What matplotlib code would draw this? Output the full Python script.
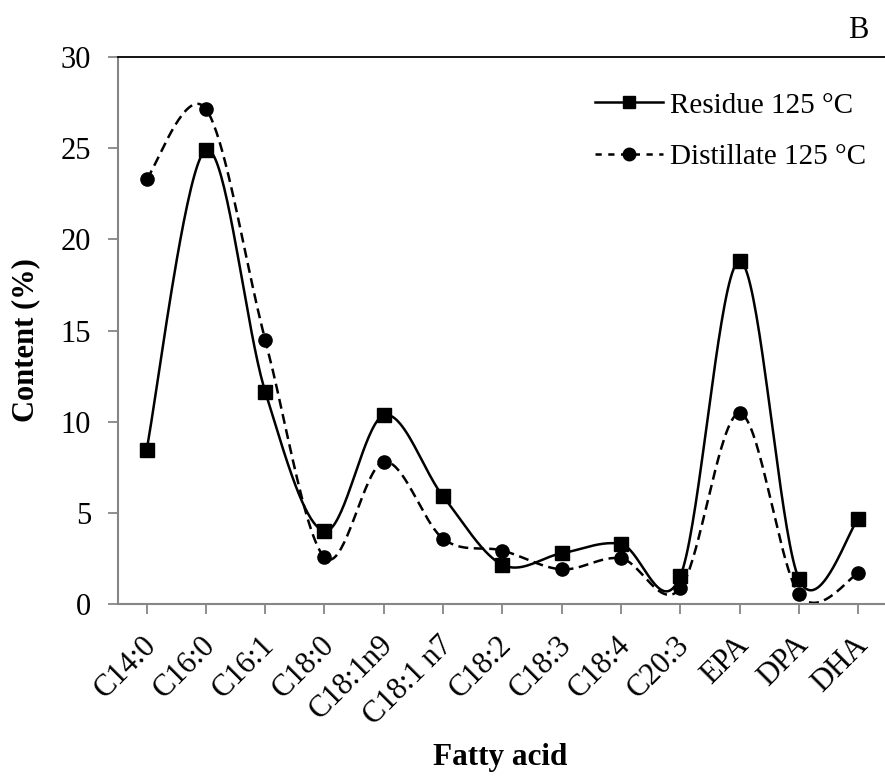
import numpy as np
import matplotlib
matplotlib.use('Agg')
from matplotlib import pyplot as plt
from matplotlib.transforms import ScaledTranslation

categories = ['C14:0', 'C16:0', 'C16:1', 'C18:0', 'C18:1n9', 'C18:1 n7', 'C18:2',
              'C18:3', 'C18:4', 'C20:3', 'EPA', 'DPA', 'DHA']
residue = [8.45, 24.9, 11.65, 4.0, 10.35, 5.9, 2.15, 2.78, 3.29, 1.54, 18.8, 1.37, 4.66]
distillate = [23.3, 27.15, 14.5, 2.56, 7.8, 3.58, 2.93, 1.9, 2.5, 0.86, 10.46, 0.53, 1.68]
y_ticks = [0, 5, 10, 15, 20, 25, 30]

plt.rcParams['font.family'] = ['Liberation Serif', 'DejaVu Serif']


def smooth(xs, ys, n=40):
    # Excel style smoothed line (Catmull-Rom as cubic bezier segments)
    p = np.column_stack([xs, ys]).astype(float)
    p = np.vstack([p[0], p, p[-1]])
    out = []
    t = np.linspace(0, 1, n)[:, None]
    for i in range(1, len(p) - 2):
        p0, p1 = p[i], p[i + 1]
        c1 = p0 + (p[i + 1] - p[i - 1]) / 6
        c2 = p1 - (p[i + 2] - p[i]) / 6
        seg = ((1 - t) ** 3) * p0 + 3 * ((1 - t) ** 2) * t * c1 + 3 * (1 - t) * t ** 2 * c2 + t ** 3 * p1
        out.append(seg if i == 1 else seg[1:])
    out = np.vstack(out)
    return out[:, 0], out[:, 1]


x = np.arange(len(categories))

fig = plt.figure(figsize=(8.85, 7.76), dpi=100)
ax = fig.add_axes([117.5 / 885, 1 - 604 / 776, 1 - 117.5 / 885, (604 - 57) / 776])

sx, sy = smooth(x, residue)
ax.plot(sx, sy, color='black', lw=1.8, solid_capstyle='round')
sx, sy = smooth(x, distillate)
ax.plot(sx, sy, color='black', lw=1.8, linestyle=(0, (4, 2.2)))
ax.plot(x, residue, 's', color='black', ms=9.5)
ax.plot(x, distillate, 'o', color='black', ms=9.5)

# legend handles combine line + marker
h1, = ax.plot([], [], '-s', color='black', lw=1.8, ms=9)
h2, = ax.plot([], [], 'o', color='black', ms=9, linestyle=(0, (2.5, 2.6)), lw=1.8)
ax.legend([h1, h2], ['Residue 125 °C', 'Distillate 125 °C'], loc='upper left',
          bbox_to_anchor=(0.6066, 0.957),
          frameon=False, fontsize=21,
          handlelength=2.33, handletextpad=0.24, labelspacing=0.85, borderaxespad=0)

ax.set_xlim(-0.49, 12.45)
ax.set_ylim(0, 30)
ax.set_yticks(y_ticks)
ax.set_xticks(x)
ax.set_xticklabels(categories, rotation=45, ha='right', va='top', rotation_mode='anchor')

for s in ['left', 'bottom']:
    ax.spines[s].set_color('#868686')
    ax.spines[s].set_linewidth(1.5)
ax.spines['right'].set_visible(False)
ax.spines['top'].set_color('black')
ax.spines['top'].set_linewidth(1.3)
ax.tick_params(axis='both', colors='#868686', labelcolor='black', labelsize=22,
               length=7, width=1.3, direction='out')
ax.tick_params(axis='x', pad=12)
ax.tick_params(axis='y', pad=12)
for lab in ax.get_xticklabels():
    lab.set_transform(lab.get_transform() + ScaledTranslation(-5 / 100, 0, fig.dpi_scale_trans))

fig.text(26 / 885, 1 - 340 / 776, 'Content (%)', fontsize=22, fontweight='bold',
         rotation=90, ha='center', va='center')
fig.text(500 / 885, 1 - 758 / 776, 'Fatty acid', fontsize=22.5, fontweight='bold',
         ha='center', va='center')
fig.text(858 / 885, 1 - 30 / 776, 'B', fontsize=22, ha='center', va='center')

fig.savefig('out.png', dpi=100)
